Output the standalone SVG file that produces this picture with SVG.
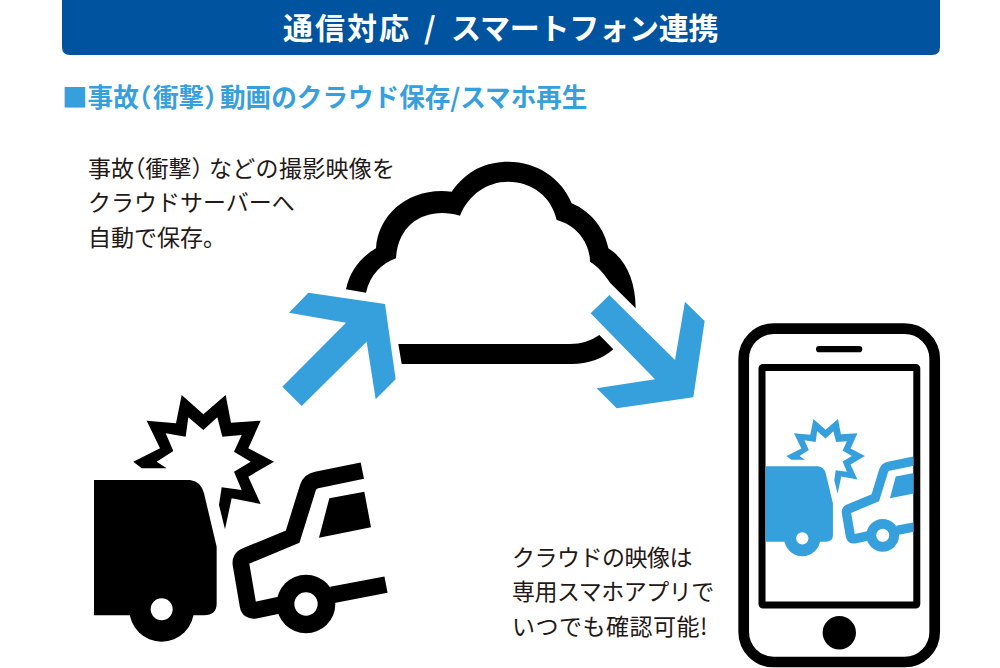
<svg xmlns="http://www.w3.org/2000/svg" width="1000" height="668" viewBox="0 0 1000 668">
<style>
text{font-family:"Noto Sans CJK JP","Noto Sans",sans-serif}
.h{font-size:30px;font-weight:700;fill:#fff}
.s{font-size:25.6px;font-weight:700;fill:#36a0dc}
.b{font-size:23px;font-weight:400;fill:#231815}
.p{font-feature-settings:"halt"}
.arrow{fill:#36a0dc}
.k{fill:#000}
</style>
<defs>
<clipPath id="scr"><rect x="765.5" y="371" width="148" height="231"/></clipPath>
<g id="crash" fill="currentColor">
<path d="M102 300H390Q422 303 432 340L470 500V670Q470 706 432 706H102Z"/>
<circle cx="305" cy="688" r="97"/>
<circle cx="305" cy="688" r="33" fill="#fff"/>
<path fill-rule="evenodd" d="M220 245L300 205L260 122L348 130L365 45L430 103L497 45L513 128L602 122L565 205L642 245L565 290L602 372L515 355L495 448L477 375L485 322L545 330L522 275L572 245L522 215L545 165L487 170L472 112L430 150L385 112L377 170L317 160L340 213L290 245L320 265H245Z"/>
<path fill="none" stroke="currentColor" stroke-width="50" d="M907 272L770 300Q750 304 744 322L698 470L558 528Q540 535 543 553L564 676Q567 694 585 691L660 675M815 645L978 614"/>
<circle cx="738" cy="672" r="88"/>
<circle cx="738" cy="672" r="35" fill="#fff"/>
<path d="M808 355L913 335L933 442L777 473Z"/>
</g>
</defs>
<g id="header">
<path fill="#00549f" d="M62 -2H940V47Q940 55 932 55H70Q62 55 62 47Z"/>
<text class="h" y="39"><tspan x="283" letter-spacing="2">通信対応</tspan> <tspan x="424">/</tspan> <tspan x="451" letter-spacing="-.2">スマートフォン連携</tspan></text>
</g>
<g id="subtitle"><text class="s" x="62" y="107">■事故<tspan class="p">（</tspan><tspan x="153">衝撃</tspan><tspan class="p">）</tspan><tspan x="220">動画のクラウド保存/スマホ再生</tspan></text></g>
<g id="text-save">
<text class="b" x="88" y="177">事故<tspan class="p">（</tspan>衝撃<tspan class="p">）</tspan><tspan x="209" letter-spacing=".3">などの撮影映像を</tspan></text>
<text class="b" x="88" y="211">クラウドサーバーへ</text>
<text class="b" x="88" y="246">自動で保存。</text>
</g>
<g id="text-play">
<text class="b" x="512" y="566" letter-spacing="-.5">クラウドの映像は</text>
<text class="b" x="512" y="600" letter-spacing="-.5">専用スマホアプリで</text>
<text class="b" x="512" y="635" letter-spacing=".5">いつでも確認可能!</text>
</g>
<g id="crash-large" color="#000" transform="translate(60 380) scale(.33333)"><use href="#crash"/></g>
<g id="cloud" transform="translate(270 150) scale(.33333)">
<path class="k" d="M228 418C240 360 275 320 318 295C325 190 420 110 545 125C590 60 650 35 715 35C800 35 875 85 905 160C965 185 1005 240 1015 295C1065 325 1097 390 1097 475L1020 398C1005 375 985 350 960 335C960 280 920 225 860 210C845 140 785 95 715 95C650 95 595 135 570 197C480 170 385 210 378 325C335 340 300 375 288 428Z"/>
<path class="k" d="M385 582H900Q950 582 988 555L1030 598Q980 642 905 642H395Z"/>
</g>
<g id="connectors" transform="translate(270 150) scale(.33333)">
<polygon class="arrow" points="115,428 345,462 377,688 317,748 290,575 95,768 37,710 228,518 57,488"/>
<polygon class="arrow" points="1018,435 1215,630 1245,455 1304,513 1270,742 1040,775 980,715 1155,688 962,490"/>
</g>
<g id="phone">
<rect x="743.7" y="328.7" width="191" height="333.3" rx="30" fill="#fff" stroke="#000" stroke-width="10.7"/>
<rect x="816" y="346" width="46.3" height="6.3" rx="3.1" fill="#000"/>
<rect x="762" y="367.5" width="154.8" height="237.5" rx="1" fill="#fff" stroke="#000" stroke-width="7"/>
<circle cx="839.3" cy="632.7" r="16.7" fill="#000"/>
<g clip-path="url(#scr)"><g color="#36a0dc" transform="translate(802.3 538.3) scale(.1857) translate(-305 -688)"><use href="#crash"/></g></g>
</g>
</svg>
